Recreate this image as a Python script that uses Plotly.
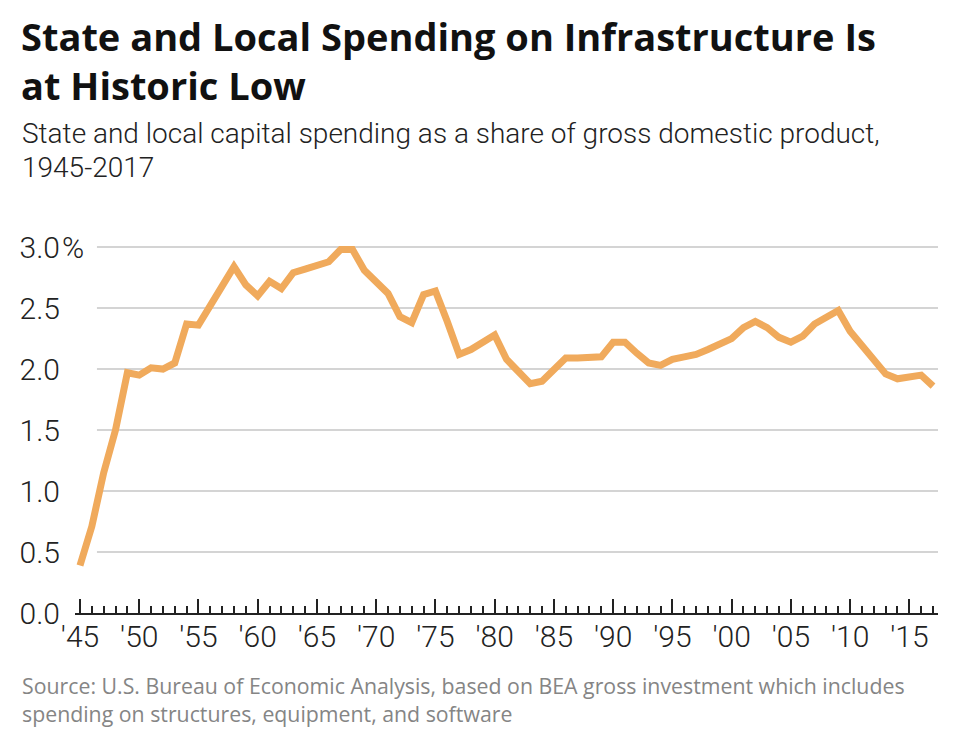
import plotly.graph_objects as go

years = list(range(1945, 2018))
share = [0.39, 0.71, 1.15, 1.50, 1.97, 1.95, 2.01, 2.00, 2.05, 2.37,
         2.36, 2.53, 2.68, 2.84, 2.69, 2.60, 2.72, 2.66, 2.79, 2.82,
         2.85, 2.88, 2.98, 2.98, 2.81, 2.72, 2.62, 2.43, 2.38, 2.61,
         2.64, 2.39, 2.12, 2.16, 2.22, 2.28, 2.08, 1.98, 1.88, 1.90,
         2.00, 2.09, 2.09, 2.10, 2.10, 2.22, 2.22, 2.13, 2.05, 2.03,
         2.08, 2.10, 2.12, 2.16, 2.21, 2.25, 2.34, 2.39, 2.34, 2.26,
         2.22, 2.27, 2.37, 2.43, 2.48, 2.31, 2.19, 2.07, 1.96, 1.92,
         1.94, 1.95, 1.86]

x_tick_vals = list(range(1945, 2016, 5))
x_tick_text = ["'45", "'50", "'55", "'60", "'65", "'70", "'75", "'80", "'85",
               "'90", "'95", "'00", "'05", "'10", "'15"]
y_tick_vals = [0.0, 0.5, 1.0, 1.5, 2.0, 2.5, 3.0]
y_tick_text = ["0.0", "0.5", "1.0", "1.5", "2.0", "2.5", "3.0"]

title_lines = ["State and Local Spending on Infrastructure Is", "at Historic Low"]
subtitle_lines = ["State and local capital spending as a share of gross domestic product,",
                  "1945-2017"]
source_lines = ["Source: U.S. Bureau of Economic Analysis, based on BEA gross investment which includes",
                "spending on structures, equipment, and software"]

# page offset (default body margin of the html page)
OFF = 8
W, H = 960, 741
PLOT_LEFT_PX, PLOT_RIGHT_PX = 73, 938
Y0PX = 613.5
Y_RANGE = [0, 3.05]
PX_PER_UNIT = 122.27
TOP_PX = Y0PX - Y_RANGE[1] * PX_PER_UNIT

L = PLOT_LEFT_PX - OFF
R = W - (PLOT_RIGHT_PX - OFF)
T = TOP_PX - OFF
B = H - (Y0PX - OFF)
PW = W - L - R
PH = H - T - B

TICKFONT = "Roboto, sans-serif"
TITLEFONT = "'Open Sans', Lato, sans-serif"
BODYFONT = "'Open Sans', Lato, sans-serif"


def px_x(px):
    return (px - OFF - L) / PW


def px_y(py):
    return (H - B - (py - OFF)) / PH


fig = go.Figure()
fig.add_trace(go.Scatter(
    x=years, y=share, mode="lines",
    line=dict(color="#F0AA5C", width=7),
    hoverinfo="skip", showlegend=False,
))

shapes = []
for v in y_tick_vals[1:]:
    shapes.append(dict(type="line", xref="paper", yref="y",
                       x0=px_x(95), x1=1, y0=v, y1=v,
                       line=dict(color="#c6c6c6", width=1.5), layer="below"))

annotations = []
annotations.append(dict(text="%", xref="paper", yref="y", x=px_x(58), y=3.0,
                        xanchor="left", yanchor="middle", showarrow=False,
                        font=dict(family=TICKFONT, size=30, color="#222", weight=300)))
annotations.append(dict(text="<br>".join(title_lines), xref="paper", yref="paper",
                        x=px_x(18), y=px_y(8), xanchor="left", yanchor="top",
                        align="left", showarrow=False, borderpad=0,
                        font=dict(family=TITLEFONT, size=38, color="#111", weight="bold")))
annotations.append(dict(text=subtitle_lines[0], xref="paper", yref="paper",
                        x=px_x(18), y=px_y(133), xanchor="left", yanchor="middle",
                        showarrow=False,
                        font=dict(family=TICKFONT, size=28, color="#222", weight=300)))
annotations.append(dict(text=subtitle_lines[1], xref="paper", yref="paper",
                        x=px_x(18), y=px_y(166.5), xanchor="left", yanchor="middle",
                        showarrow=False,
                        font=dict(family=TICKFONT, size=28, color="#222", weight=300)))
annotations.append(dict(text="<br>".join(source_lines), xref="paper", yref="paper",
                        x=px_x(18), y=px_y(700), xanchor="left", yanchor="middle",
                        align="left", showarrow=False,
                        font=dict(family=BODYFONT, size=21.3, color="#858585")))

fig.update_layout(
    width=W, height=H,
    margin=dict(l=L, r=R, t=T, b=B, pad=0),
    paper_bgcolor="white", plot_bgcolor="white",
    shapes=shapes, annotations=annotations,
    xaxis=dict(
        range=[1944.58, 2017.42],
        tickmode="array", tickvals=x_tick_vals, ticktext=x_tick_text,
        ticks="inside", ticklen=14, tickwidth=2, tickcolor="#222",
        minor=dict(dtick=1, tick0=1945, ticks="inside", ticklen=7,
                   tickwidth=1.5, tickcolor="#222", showgrid=False),
        showline=True, linecolor="#222", linewidth=2,
        showgrid=False, zeroline=False,
        tickfont=dict(family=TICKFONT, size=30, color="#222", weight=300),
        ticklabelstandoff=-4,
        fixedrange=True,
    ),
    yaxis=dict(
        range=Y_RANGE,
        tickmode="array", tickvals=y_tick_vals, ticktext=y_tick_text,
        ticks="", showline=False, showgrid=False, zeroline=False,
        tickfont=dict(family=TICKFONT, size=30, color="#222", weight=300),
        ticklabelstandoff=14,
        fixedrange=True,
    ),
)

fig.write_html("out.html")
